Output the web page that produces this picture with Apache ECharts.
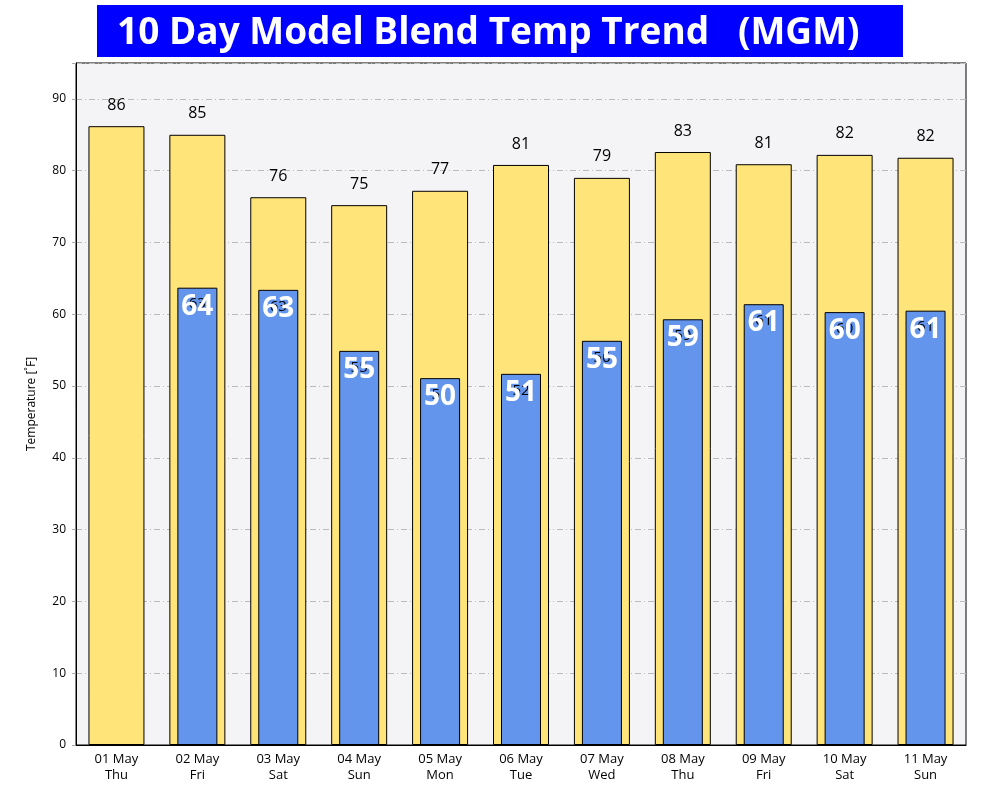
<!DOCTYPE html>
<html>
<head>
<meta charset="utf-8">
<script src="https://cdn.jsdelivr.net/npm/echarts@6/dist/echarts.min.js"></script>
<style>html,body{margin:0;padding:0;background:#fff;}#c{width:984px;height:808px;}</style>
</head>
<body>
<div id="c"></div>
<script>
const categories = ['01 May\nThu','02 May\nFri','03 May\nSat','04 May\nSun','05 May\nMon','06 May\nTue','07 May\nWed','08 May\nThu','09 May\nFri','10 May\nSat','11 May\nSun'];
const highValues = [86.2, 85.0, 76.3, 75.2, 77.2, 80.8, 79.0, 82.6, 80.9, 82.2, 81.8];
const highLabels = ['86','85','76','75','77','81','79','83','81','82','82'];
const lowValues = [null, 63.7, 63.4, 54.9, 51.1, 51.7, 56.3, 59.3, 61.4, 60.3, 60.5];
const lowSmallLabels = ['', '63', '63', '55', '51', '52', '56', '59', '61', '60', '61'];
const lowLabels = ['', '64', '63', '55', '50', '51', '55', '59', '61', '60', '61'];
const yTicks = [0,10,20,30,40,50,60,70,80,90];

const chart = echarts.init(document.getElementById('c'));
const font = 'Open Sans';
chart.setOption({
  backgroundColor: '#ffffff',
  animation: false,
  textStyle: {fontFamily: font},
  graphic: [
    {type: 'rect', left: 97, top: 5, shape: {width: 806, height: 52}, style: {fill: '#0000ff'}, z: 10},
    {type: 'text', x: 117, y: 33, z: 11, style: {text: '10 Day Model Blend Temp Trend   (MGM)', fill: '#ffffff', font: 'bold 37px "Open Sans"', textVerticalAlign: 'middle', textAlign: 'left'}}
  ],
  grid: {left: 76, right: 18, top: 63, bottom: 63, show: true, backgroundColor: '#f4f4f6', borderColor: '#000', borderWidth: 1},
  xAxis: [
    {type: 'category', data: categories, axisLine: {lineStyle: {color: '#000'}}, axisTick: {show: false},
     axisLabel: {color: '#000', fontSize: 13, lineHeight: 16, margin: 6, interval: 0}},
    {type: 'category', data: categories, show: false},
    {type: 'category', data: categories, show: false}
  ],
  yAxis: {
    type: 'value', min: 0, max: 95, interval: 10,
    name: 'Temperature [˚F]', nameLocation: 'middle', nameGap: 38,
    nameTextStyle: {color: '#000', fontSize: 12},
    axisLine: {show: true, lineStyle: {color: '#000'}},
    axisTick: {show: true, length: 6, lineStyle: {color: '#aaa', type: 'dashed'}},
    axisLabel: {color: '#000', fontSize: 12, margin: 10, formatter: v => yTicks.includes(v) ? String(v) : ''},
    splitLine: {show: true, lineStyle: {color: '#bbb', type: [6,3,1,3], width: 1}}
  },
  series: [
    {type: 'bar', xAxisIndex: 0, data: highValues, barWidth: 56,
     itemStyle: {color: '#ffe47a', borderColor: '#000', borderWidth: 1},
     label: {show: true, position: 'top', distance: 13, color: '#000', fontSize: 16, formatter: p => highLabels[p.dataIndex]}, z: 2},
    {type: 'bar', xAxisIndex: 1, data: lowValues, barWidth: 40,
     itemStyle: {color: '#6495ed', borderColor: '#000', borderWidth: 1},
     label: {show: true, position: 'insideTop', distance: 9, color: '#000', fontSize: 15, formatter: p => lowSmallLabels[p.dataIndex]}, z: 3},
    {type: 'bar', xAxisIndex: 2, data: lowValues, barWidth: 40,
     itemStyle: {color: 'rgba(0,0,0,0)', borderWidth: 0},
     label: {show: true, position: 'insideTop', distance: 5, color: '#fff', fontSize: 28, fontWeight: 'bold', formatter: p => lowLabels[p.dataIndex]}, z: 4}
  ]
});
</script>
</body>
</html>
